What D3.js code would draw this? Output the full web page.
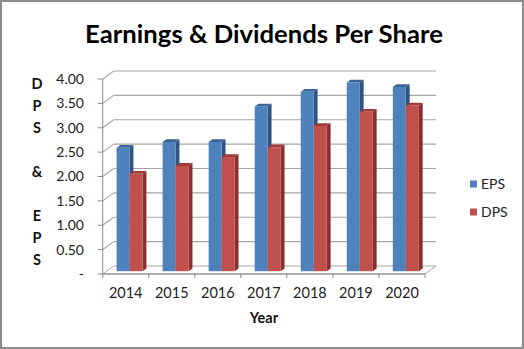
<!DOCTYPE html>
<html><head><meta charset="utf-8">
<script src="https://cdn.jsdelivr.net/npm/d3@7"></script>
<style>body{margin:0;background:#fff}svg{display:block}</style>
</head><body>
<svg id="c" width="524" height="349"></svg>
<script>
const years = ["2014","2015","2016","2017","2018","2019","2020"];
const eps = [2.53, 2.65, 2.65, 3.38, 3.68, 3.87, 3.78];
const dps = [2.00, 2.16, 2.34, 2.54, 2.98, 3.27, 3.40];
const seriesNames = ["EPS","DPS"];
const yTicks = [0,0.5,1,1.5,2,2.5,3,3.5,4];
const tickLabels = ["-","0.50","1.00","1.50","2.00","2.50","3.00","3.50","4.00"];
const title = "Earnings & Dividends Per Share";
const yTitleLetters = ["D","P","S","","&","","E","P","S"];
const xTitle = "Year";

const W=524,H=349;
const svg=d3.select("#c");
const font="Lato, 'Open Sans', sans-serif";
svg.append("rect").attr("x",1).attr("y",1).attr("width",W-2).attr("height",H-2)
  .attr("fill","#fff").attr("stroke","#8c8c8c").attr("stroke-width",2);

// 3D geometry
const DX=11, DY=-8;
const x0=102.7, x1=425;
const y=d3.scaleLinear().domain([0,4]).range([274,79]);
const x=d3.scaleBand().domain(years).range([x0,x1]);
const t0=0.35, t1=0.7;
const gridC="#a6a6a6";

const g=svg.append("g");
// floor
g.append("path").attr("d",`M${x0},${y(0)}L${x1},${y(0)}L${x1+DX},${y(0)+DY}L${x0+DX},${y(0)+DY}Z`)
  .attr("fill","#fff").attr("stroke",gridC).attr("stroke-width",1);
// back wall grid + side diagonals
yTicks.filter(d=>d>0).forEach(v=>{
  g.append("line").attr("x1",x0+DX).attr("x2",x1+DX).attr("y1",y(v)+DY).attr("y2",y(v)+DY)
    .attr("stroke",gridC).attr("stroke-width",1.2);
  g.append("line").attr("x1",x0).attr("x2",x0+DX).attr("y1",y(v)).attr("y2",y(v)+DY)
    .attr("stroke",gridC).attr("stroke-width",1.2);
});
// front left axis line
g.append("line").attr("x1",x0).attr("x2",x0).attr("y1",y(4)).attr("y2",y(0)).attr("stroke","#8c8c8c");
// y ticks
yTicks.forEach((v,i)=>{
  g.append("line").attr("x1",x0-5).attr("x2",x0).attr("y1",y(v)).attr("y2",y(v)).attr("stroke","#8c8c8c");
  g.append("text").attr("x",84).attr("y",y(v)).attr("dy","0.35em").attr("text-anchor","end")
    .attr("font-family",font).attr("font-size",14).attr("fill","#222").text(tickLabels[i]);
});
// x axis line + ticks
g.append("line").attr("x1",x0).attr("x2",x1).attr("y1",y(0)).attr("y2",y(0)).attr("stroke","#8c8c8c");
years.concat(["end"]).forEach((d,i)=>{
  const xx = i<years.length ? x(d) : x1;
  g.append("line").attr("x1",xx).attr("x2",xx).attr("y1",y(0)).attr("y2",y(0)+4).attr("stroke","#8c8c8c");
});
years.forEach(d=>{
  g.append("text").attr("x",x(d)+x.bandwidth()/2).attr("y",298).attr("text-anchor","middle")
   .attr("font-family",font).attr("font-size",14.5).attr("fill","#222").text(d);
});
// bars
const sub=d3.scaleBand().domain(seriesNames).range([0,x.bandwidth()]).paddingInner(0).paddingOuter(0.77);
const cols={EPS:{front:"#4F81BD",side:"#2F5383",top:"#3A6398"},DPS:{front:"#C0504D",side:"#8A2F2D",top:"#9F3C39"}};
const vals={EPS:eps,DPS:dps};
years.forEach((yr,i)=>{
  seriesNames.forEach(s=>{
    const v=vals[s][i], c=cols[s];
    const bx=x(yr)+sub(s)+t0*DX, by=y(v)+t0*DY, bw=sub.bandwidth(), bb=y(0)+t0*DY;
    const dx=(t1-t0)*DX, dy=(t1-t0)*DY;
    g.append("path").attr("d",`M${bx+bw},${by}L${bx+bw+dx},${by+dy}L${bx+bw+dx},${bb+dy}L${bx+bw},${bb}Z`).attr("fill",c.side);
    g.append("path").attr("d",`M${bx},${by}L${bx+dx},${by+dy}L${bx+bw+dx},${by+dy}L${bx+bw},${by}Z`).attr("fill",c.top);
    g.append("rect").attr("x",bx).attr("y",by).attr("width",bw).attr("height",bb-by).attr("fill",c.front);
  });
});
// y title
yTitleLetters.forEach((L,i)=>{
  g.append("text").attr("x",37).attr("y",84+i*22).attr("dy","0.35em").attr("text-anchor","middle")
   .attr("font-family",font).attr("font-weight","bold").attr("font-size",14.5).attr("fill","#111").text(L);
});
// x title
g.append("text").attr("x",264).attr("y",318).attr("dy","0.35em").attr("text-anchor","middle")
 .attr("font-family",font).attr("font-weight","bold").attr("font-size",14.5).attr("fill","#111").text(xTitle);
// title
const tt=svg.append("text").attr("x",264).attr("y",34).attr("dy","0.35em").attr("text-anchor","middle")
 .attr("font-family",font).attr("font-weight","bold").attr("font-size",24).attr("fill","#000").text(title);
const wT=tt.node().getComputedTextLength();
tt.attr("font-size",24*358/wT);
// legend
seriesNames.forEach((s,i)=>{
  const ly=184+i*28;
  svg.append("rect").attr("x",470).attr("y",ly-3.5).attr("width",7).attr("height",7).attr("fill",cols[s].front);
  svg.append("text").attr("x",481).attr("y",ly).attr("dy","0.35em").attr("font-family",font)
   .attr("font-size",14).attr("fill","#222").text(s);
});
</script>
</body></html>
